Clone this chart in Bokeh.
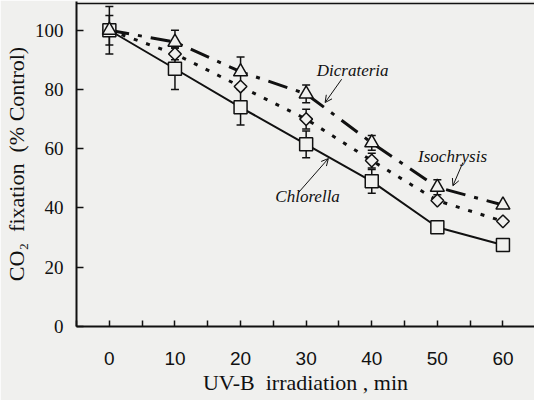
from bokeh.plotting import figure
from bokeh.models import (Range1d, FixedTicker, Whisker, TeeHead, ColumnDataSource,
                          Label, Arrow, OpenHead, Span)
from bokeh.embed import file_html
from bokeh.resources import INLINE

# ---- data ----
minutes = [0, 10, 20, 30, 40, 50, 60]
chlorella = [100, 87, 74, 61.5, 49, 33.5, 27.5]
chlorella_err = [8, 7, 6, 4.5, 4, 0, 0]
dicrateria = [100, 96, 86, 78.5, 62, 47, 41]
dicrateria_err = [5, 4, 5, 3, 2.5, 2.5, 0]
isochrysis = [100, 92, 81, 70, 56, 42.5, 35.5]
isochrysis_err = [0, 2, 0, 3.3, 2.5, 0, 0]

x_ticks = [0, 10, 20, 30, 40, 50, 60]
x_minor = [-5, 5, 15, 25, 35, 45, 55, 65]
y_ticks = [0, 20, 40, 60, 80, 100]

NB = "\u00a0"
x_title = "UV-B" + NB + NB + "irradiation" + NB + "," + NB + "min"
y_title = "CO\u2082" + NB + NB + "fixation" + NB + NB + "(%" + NB + "Control)"

INK = "#111111"
BG = "#f0f0ee"

p = figure(width=534, height=400, output_backend="svg", toolbar_location=None,
           x_range=Range1d(-5.01, 64.81), y_range=Range1d(0, 109.7),
           min_border_left=74, min_border_right=0, min_border_top=1,
           min_border_bottom=74)
p.outline_line_color = None
p.grid.visible = False
p.background_fill_color = BG
p.border_fill_color = BG

# x axis
xa = p.xaxis[0]
xa.ticker = FixedTicker(ticks=x_ticks, minor_ticks=x_minor)
xa.axis_line_width = 2
xa.axis_line_color = INK
xa.major_tick_in = 6
xa.major_tick_out = 0
xa.minor_tick_in = 6
xa.minor_tick_out = 0
xa.major_tick_line_width = 1.5
xa.minor_tick_line_width = 1.5
xa.major_tick_line_color = INK
xa.minor_tick_line_color = INK
xa.major_label_text_font = "Liberation Sans"
xa.major_label_text_font_size = "19px"
xa.major_label_text_color = INK
xa.major_label_standoff = 25
xa.axis_label = x_title
xa.axis_label_text_font = "Liberation Serif"
xa.axis_label_text_font_style = "normal"
xa.axis_label_text_font_size = "22px"
xa.axis_label_text_color = INK
xa.axis_label_standoff = 2

# y axis
ya = p.yaxis[0]
ya.ticker = FixedTicker(ticks=y_ticks, minor_ticks=[])
ya.axis_line_width = 2
ya.axis_line_color = INK
ya.major_tick_in = 7
ya.major_tick_out = 0
ya.minor_tick_in = 0
ya.minor_tick_out = 0
ya.major_tick_line_width = 1.5
ya.major_tick_line_color = INK
ya.major_label_text_font = "Liberation Serif"
ya.major_label_text_font_size = "19px"
ya.major_label_text_color = INK
ya.major_label_standoff = 13
ya.axis_label = y_title
ya.axis_label_text_font = "Liberation Serif"
ya.axis_label_text_font_style = "normal"
ya.axis_label_text_font_size = "22px"
ya.axis_label_text_color = INK
ya.axis_label_standoff = 3

# top frame line
p.add_layout(Span(location=109, dimension="width", line_color=INK, line_width=1.5))

# error bars (drawn beneath everything)
for ys, errs in [(chlorella, chlorella_err), (dicrateria, dicrateria_err),
                 (isochrysis, isochrysis_err)]:
    src = ColumnDataSource(dict(
        x=[m for m, e in zip(minutes, errs) if e > 0],
        upper=[y + e for y, e in zip(ys, errs) if e > 0],
        lower=[y - e for y, e in zip(ys, errs) if e > 0]))
    w = Whisker(source=src, base="x", upper="upper", lower="lower",
                dimension="height", line_color=INK, line_width=1.5, level="underlay",
                upper_head=TeeHead(size=8, line_width=1.5, line_color=INK),
                lower_head=TeeHead(size=8, line_width=1.5, line_color=INK))
    p.add_layout(w)

# lines
p.line(minutes, chlorella, line_color=INK, line_width=2)
p.line(minutes, dicrateria, line_color=INK, line_width=3, line_dash="20 9 4 9")
p.line(minutes, isochrysis, line_color=INK, line_width=3, line_dash="4 9")

# markers
p.scatter(minutes, isochrysis, marker="square", angle=0.785398, size=9,
          fill_color=BG, line_color=INK, line_width=1.5)
p.scatter(minutes, chlorella, marker="square", size=13,
          fill_color=BG, line_color=INK, line_width=1.5)
p.scatter(minutes, dicrateria, marker="triangle", size=14,
          fill_color=BG, line_color=INK, line_width=1.5)

# annotations
for txt, lx, ly, x0, y0, x1, y1 in [
        ("Dicrateria", 31.62, 86.3, 35.41, 83.46, 32.89, 75.6),
        ("Isochrysis", 47.06, 57.37, 53.89, 55.35, 52.37, 47.49),
        ("Chlorella", 25.30, 43.77, 28.84, 45.22, 33.39, 56.7)]:
    p.add_layout(Label(x=lx, y=ly, text=txt, text_font="Liberation Serif",
                       text_font_style="italic", text_font_size="17px",
                       text_color=INK, text_align="left", text_baseline="alphabetic"))
    p.add_layout(Arrow(end=OpenHead(size=7, line_width=1, line_color=INK),
                       x_start=x0, y_start=y0, x_end=x1, y_end=y1,
                       line_width=1, line_color=INK))

open("out.html", "w").write(file_html(p, INLINE))
